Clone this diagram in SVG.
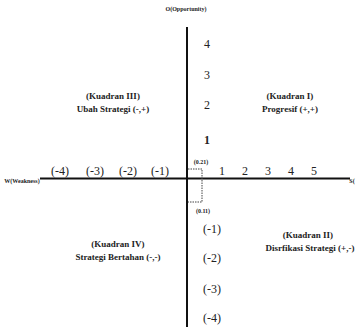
<svg xmlns="http://www.w3.org/2000/svg" width="357" height="327" viewBox="0 0 357 327">
<style>
.t{font-family:"Liberation Serif","Times New Roman","DejaVu Serif",serif;fill:#222;font-weight:bold}
.q{font-size:9px;text-anchor:middle}
.n{font-size:12px;font-weight:normal;text-anchor:middle}
.s{font-size:6px;text-anchor:middle}
.ax{stroke:#111;stroke-width:2;fill:none}
.d{stroke:#444;stroke-width:1;stroke-dasharray:1.5 1;fill:none}
</style>
<rect width="357" height="327" fill="#fff"/>
<g id="connectors">
<line class="ax" x1="187" y1="27" x2="187" y2="327"/>
<line class="ax" x1="40" y1="178.5" x2="350" y2="178.5"/>
<polyline class="d" points="188,169 202,169 202,202 188,202"/>
</g>
<g id="axis-labels">
<text class="t s" x="186" y="11">O(Opportunity)</text>
<text class="t s" x="22" y="183">W(Weakness)</text>
<text class="t s" x="352" y="183">S(</text>
<text class="t s" x="201" y="164">(0.21)</text>
<text class="t s" x="203" y="213">(0.11)</text>
</g>
<g id="y-ticks">
<text class="t n" x="207" y="48">4</text>
<text class="t n" x="207" y="79">3</text>
<text class="t n" x="207" y="109">2</text>
<text class="t n" x="207" y="144" style="font-weight:bold">1</text>
<text class="t n" x="212" y="233">(-1)</text>
<text class="t n" x="212" y="262">(-2)</text>
<text class="t n" x="212" y="293">(-3)</text>
<text class="t n" x="212" y="322">(-4)</text>
</g>
<g id="x-ticks">
<text class="t n" x="60" y="175">(-4)</text>
<text class="t n" x="95" y="175">(-3)</text>
<text class="t n" x="128" y="175">(-2)</text>
<text class="t n" x="160" y="175">(-1)</text>
<text class="t n" x="222" y="175">1</text>
<text class="t n" x="245" y="175">2</text>
<text class="t n" x="268" y="175">3</text>
<text class="t n" x="291" y="175">4</text>
<text class="t n" x="314" y="175">5</text>
</g>
<g id="kuadran-3">
<text class="t q" x="113" y="99">(Kuadran III)</text>
<text class="t q" x="113" y="112">Ubah Strategi (-,+)</text>
</g>
<g id="kuadran-1">
<text class="t q" x="290" y="99">(Kuadran I)</text>
<text class="t q" x="290" y="112">Progresif (+,+)</text>
</g>
<g id="kuadran-4">
<text class="t q" x="118" y="247">(Kuadran IV)</text>
<text class="t q" x="118" y="260">Strategi Bertahan (-,-)</text>
</g>
<g id="kuadran-2">
<text class="t q" x="308" y="238">(Kuadran II)</text>
<text class="t q" x="310" y="251">Disrfikasi Strategi (+,-)</text>
</g>
</svg>
